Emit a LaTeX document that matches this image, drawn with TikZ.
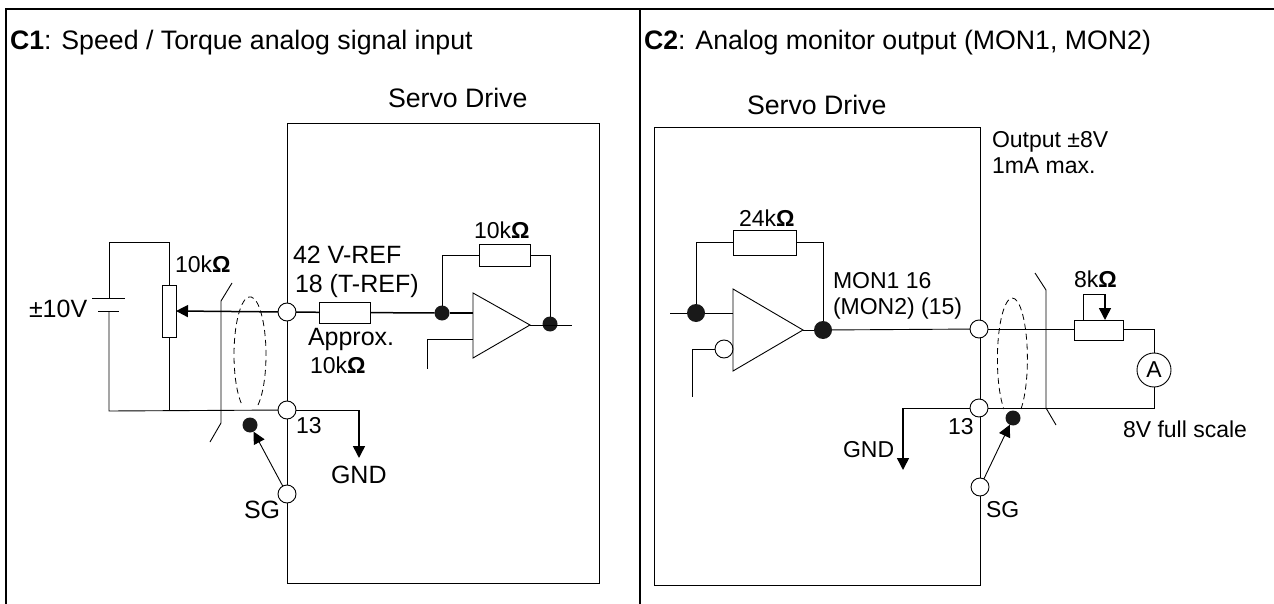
\documentclass[tikz,border=0pt]{standalone}
\usepackage{fontspec}
\setmainfont{Liberation Sans}
\usetikzlibrary{
  arrows.meta,
  positioning,
}
\newcommand{\ohm}{\textbf{Ω}}

\begin{document}
\begin{tikzpicture}[x=1pt,y=-1pt,>={Triangle[length=12pt,width=12pt]},
      font=\fontsize{23}{26}\selectfont,line width=0.9pt,
      lbl/.style={anchor=base west,inner sep=0pt,outer sep=0pt},
      lblA/.style={lbl,font=\fontsize{25}{28}\selectfont},
      head/.style={lbl,font=\fontsize{26.7}{30}\selectfont},
      terminal/.style={circle,draw,fill=white,minimum size=18pt,inner sep=0pt,outer sep=0pt},
      dot/.style={circle,fill=black!90,minimum size=15pt,inner sep=0pt,outer sep=0pt},
      res/.style={rectangle,draw,fill=white,inner sep=0pt,outer sep=0pt},
      wire/.style={line width=1.5pt},
      frameline/.style={line width=2.6pt},
      shield/.style={dashed,dash pattern=on 6pt off 4pt,line width=0.8pt}
    ]
      \useasboundingbox (0,0) rectangle (1274,604);

      \draw [frameline] (6,604) -- (6,9) -- (1274,9);
      \draw [frameline] (640,9) -- (640,604);

      \node [head] at (10,50) (titleA) {\textbf{C1}: Speed / Torque analog signal input};
      \node [head] at (644,50) (titleB) {\textbf{C2}: Analog monitor output (MON1, MON2)};

      % left panel
      \node [head] at (388,108) (driveA) {Servo Drive};
      \draw (287,123) rectangle (599,583);

      \node [terminal] at (287,312) (ref) {};
      \node [terminal] at (287,410) (gndA) {};
      \node [terminal] at (287,494) (sgA) {};
      \node [res,minimum width=14pt,minimum height=52pt] at (169,311) (pot) {};
      \node [res,minimum width=51pt,minimum height=21pt] at (344.5,312.5) (rin) {};
      \node [res,minimum width=51pt,minimum height=22pt] at (504.5,255) (rfbA) {};
      \node [dot] at (442,313) (invA) {};
      \node [dot] at (550,324) (outA) {};
      \node [dot] at (250,425) (shA) {};

      \coordinate (loopTL) at (109,242);
      \coordinate (loopBL) at (109,411);
      \coordinate (batTop) at (109,298);
      \coordinate (batBot) at (109,311);
      \draw (pot.north) |- (loopTL) -- (batTop);
      \draw (batBot) -- (loopBL) -- (gndA);
      \draw (pot.south) -- (pot.south |- loopBL);
      \draw ([xshift=-17pt]batTop) -- ([xshift=16pt]batTop);
      \draw ([xshift=-11pt]batBot) -- ([xshift=10pt]batBot);

      \draw [->,wire] (ref) -- (pot.east);
      \draw [wire] (ref) -- (rin);
      \draw [wire] (rin) -- (invA);

      \coordinate (gndCorner) at (359,410);
      \coordinate (gndTipA) at (359,458);
      \draw (gndA) -- (gndCorner);
      \draw [->,wire] (gndCorner) -- (gndTipA);

      \draw (232,283) -- (221,301) -- (221,423) -- (210,442);
      \draw [shield] (258,405) arc [start angle=-60,end angle=240,x radius=16pt,y radius=58pt];
      \draw [->] (sgA) -- (shA);

      \coordinate (ampAT) at (473,293);
      \coordinate (ampAB) at (473,358);
      \coordinate (ampAO) at (530,325);
      \draw [wire] (invA) -- (invA -| ampAT);
      \draw (ampAT) -- (ampAB) -- (ampAO) -- cycle;
      \draw (invA) |- (rfbA.west);
      \draw (rfbA.east) -| (outA);
      \coordinate (outEndA) at (572,325);
      \draw (ampAO) -- (outEndA);
      \coordinate (plusA) at (473,339);
      \coordinate (plusEndA) at (427,369);
      \draw (plusA) -| (plusEndA);

      \node [lbl] at (175,272) (potLbl) {10k\ohm};
      \node [lblA] at (29,317) (volt) {±10V};
      \node [lblA] at (293,263) (refA) {42 V-REF};
      \node [lblA] at (295,292) (refB) {18 (T-REF)};
      \node [lblA] at (308,345) (apprA) {Approx.};
      \node [lbl] at (310,373) (apprB) {10k\ohm};
      \node [lbl] at (474,238) (rfbLblA) {10k\ohm};
      \node [lbl] at (296,433) (pinA) {13};
      \node [lblA] at (331,483) (gndLblA) {GND};
      \node [lblA] at (244,518) (sgLblA) {SG};

      % right panel
      \node [head] at (747,115) (driveB) {Servo Drive};
      \draw (654,127) rectangle (980,585);

      \node [terminal] at (979,329) (mon) {};
      \node [terminal] at (979,408) (gndB) {};
      \node [terminal] at (980,487) (sgB) {};
      \node [terminal] at (724,349) (bubble) {};
      \node [res,minimum width=63pt,minimum height=25pt] at (764.5,242.5) (rfbB) {};
      \node [res,minimum width=49pt,minimum height=20pt] at (1098.5,330) (trim) {};
      \node [circle,draw,minimum size=34pt,inner sep=0pt,outer sep=0pt] at (1154,370) (meter) {A};
      \node [dot,minimum size=18pt] at (696,313) (invB) {};
      \node [dot,minimum size=18pt] at (823,330) (outB) {};
      \node [dot] at (1013,418) (shB) {};

      \coordinate (ampBT) at (733,289);
      \coordinate (ampBB) at (733,371);
      \coordinate (ampBO) at (803,330);
      \draw (ampBT) -- (ampBB) -- (ampBO) -- cycle;
      \coordinate (inEndB) at (670,313);
      \draw (inEndB) -- (invB) -- (invB -| ampBT);
      \draw (invB) |- (rfbB.west);
      \draw (rfbB.east) -| (outB);
      \draw (ampBO) -- (outB);
      \draw (outB) -- (mon);
      \coordinate (plusEndB) at (692,397);
      \draw (bubble) -| (plusEndB);

      \draw (mon) -- (mon -| trim.west);
      \coordinate (loopTR) at (1154,329);
      \coordinate (loopBR) at (1154,408);
      \draw (trim.east |- loopTR) -- (loopTR) -- (meter);
      \draw (meter) -- (loopBR) -- (gndB);
      \coordinate (wipeBase) at (1083,320);
      \coordinate (wipeTop) at (1083,294);
      \coordinate (wipeCorner) at (1105,294);
      \coordinate (wipeTip) at (1105,320);
      \draw (wipeBase) -- (wipeTop) -- (wipeCorner);
      \draw [->,wire] (wipeCorner) -- (wipeTip);

      \coordinate (gndCornerB) at (903,408);
      \coordinate (gndTipB) at (903,470);
      \draw (gndB) -- (gndCornerB);
      \draw [->,wire] (gndCornerB) -- (gndTipB);

      \draw (1035,273) -- (1046,290) -- (1046,408) -- (1056,425);
      \draw [shield] (1021,409) arc [start angle=-55,end angle=235,x radius=15pt,y radius=61pt];
      \draw [->] (sgB) -- (shB);

      \node [lbl] at (739,226) (rfbLblB) {24k\ohm};
      \node [lbl] at (833,288) (monA) {MON1 16};
      \node [lbl] at (833,314) (monB) {(MON2) (15)};
      \node [lbl] at (992,148) (outA1) {Output ±8V};
      \node [lbl] at (992,174) (outA2) {1mA max.};
      \node [lbl] at (1074,287) (trimLbl) {8k\ohm};
      \node [lbl] at (1123,437) (scale) {8V full scale};
      \node [lbl] at (948,434) (pinB) {13};
      \node [lbl] at (843,457) (gndLblB) {GND};
      \node [lbl] at (986,517) (sgLblB) {SG};
    \end{tikzpicture}
\end{document}
